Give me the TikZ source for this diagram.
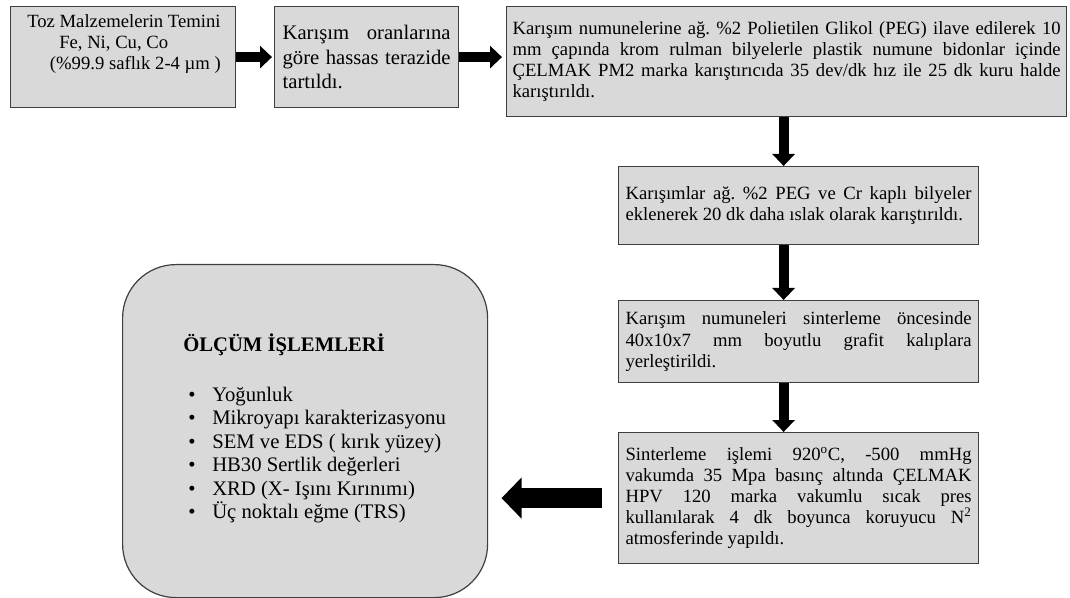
\documentclass[tikz,border=0pt]{standalone}
\usepackage{fontspec}
\setmainfont{Liberation Serif}
\usetikzlibrary{calc,arrows.meta}
\usepackage{xcolor}
\definecolor{boxgray}{HTML}{D9D9D9}
\definecolor{boxline}{HTML}{3F3F3F}
\hyphenpenalty=10000
\exhyphenpenalty=10000
\frenchspacing

\tikzset{
  stepbox/.style={draw=boxline, fill=boxgray, line width=0.9pt, anchor=north west,
    inner ysep=0pt, align=justify, font=\fontsize{14pt}{15.8pt}\selectfont},
  fatarrow/.style={-{Triangle[width=16.5pt, length=9pt]}, line width=7.5pt},
  bigarrow/.style={-{Triangle[width=30pt, length=15pt]}, line width=15pt},
}

\begin{document}
\begin{tikzpicture}[x=0.75pt, y=-0.75pt]
  \useasboundingbox (0,0) rectangle (1070,598);

  % ==================== TOP ROW ====================
  \node[stepbox, minimum width=168.75pt, minimum height=75.75pt] (b1) at (10,6) {};
  \node[anchor=north west, align=left, inner sep=0pt, font=\fontsize{14pt}{15.8pt}\selectfont]
    (b1txt) at ([xshift=12.75pt, yshift=-6pt]b1.north west)
    {Toz Malzemelerin Temini\\
     \hspace*{24pt}Fe, Ni, Cu, Co\\
     \hspace*{17pt}(\%99.9 saflık 2-4 µm )};

  \node[stepbox, text width=126pt, inner xsep=6pt, minimum height=75.75pt,
    font=\fontsize{15.5pt}{18.5pt}\selectfont] (b2) at (274,6)
    {Karışım oranlarına\linebreak göre hassas terazide\linebreak tartıldı.};

  \node[stepbox, text width=411pt, inner xsep=4.5pt, minimum height=82.5pt] (b3) at (506,6)
    {Karışım numunelerine ağ. \%2 Polietilen Glikol (PEG) ilave edilerek 10\linebreak
     mm çapında krom rulman bilyelerle plastik numune bidonlar içinde\linebreak
     ÇELMAK PM2 marka karıştırıcıda 35 dev/dk hız ile 25 dk kuru halde\linebreak
     karıştırıldı.};

  % ==================== RIGHT COLUMN ====================
  \node[stepbox, text width=259.5pt, inner xsep=5.25pt, minimum height=58.5pt] (b4) at (618,166)
    {Karışımlar ağ. \%2 PEG ve Cr kaplı bilyeler\linebreak
     eklenerek 20 dk daha ıslak olarak karıştırıldı.};

  \node[stepbox, text width=259.5pt, inner xsep=5.25pt, minimum height=61.5pt] (b5) at (618,300)
    {Karışım numuneleri sinterleme öncesinde\linebreak
     40x10x7 mm boyutlu grafit kalıplara\linebreak
     yerleştirildi.};

  \node[stepbox, text width=259.5pt, inner xsep=5.25pt, minimum height=98.25pt] (b6) at (618,432)
    {Sinterleme işlemi 920\textsuperscript{o}C, -500 mmHg\linebreak
     vakumda 35 Mpa basınç altında ÇELMAK\linebreak
     HPV 120 marka vakumlu sıcak pres\linebreak
     kullanılarak 4 dk boyunca koruyucu N\textsuperscript{2}\linebreak
     atmosferinde yapıldı.};

  % ==================== MEASUREMENTS ====================
  \node[draw=boxline, fill=boxgray, line width=0.9pt, rounded corners=40pt, anchor=north west,
    minimum width=273.75pt, minimum height=249.75pt] (ops) at (122,264) {};
  \node[anchor=west, align=left, inner sep=0pt, font=\fontsize{15.5pt}{17.6pt}\selectfont]
    (opslist) at ([xshift=45.75pt, yshift=2pt]ops.west)
    {{\bfseries ÖLÇÜM İŞLEMLERİ}\\[20pt]
     \hspace*{3.75pt}\makebox[18pt][l]{•}Yoğunluk\\
     \hspace*{3.75pt}\makebox[18pt][l]{•}Mikroyapı karakterizasyonu\\
     \hspace*{3.75pt}\makebox[18pt][l]{•}SEM ve EDS ( kırık yüzey)\\
     \hspace*{3.75pt}\makebox[18pt][l]{•}HB30 Sertlik değerleri\\
     \hspace*{3.75pt}\makebox[18pt][l]{•}XRD (X- Işını Kırınımı)\\
     \hspace*{3.75pt}\makebox[18pt][l]{•}Üç noktalı eğme (TRS)};

  % ==================== ARROWS ====================
  \draw[fatarrow, shorten >=1.5pt] (b1.east) -- (b2.west);
  \draw[fatarrow, shorten >=3pt] (b2.east) -- (b2.east -| b3.west);
  \draw[fatarrow] ([xshift=-2.25pt]b3.south) -- ([xshift=-2.25pt]b3.south |- b4.north);
  \draw[fatarrow] ([xshift=-2.25pt]b3.south |- b4.south) -- ([xshift=-2.25pt]b3.south |- b5.north);
  \draw[fatarrow] ([xshift=-2.25pt]b3.south |- b5.south) -- ([xshift=-2.25pt]b3.south |- b6.north);
  \draw[bigarrow, shorten <=12pt, shorten >=10pt] (b6.west) -- (b6.west -| ops.east);

\end{tikzpicture}
\end{document}
